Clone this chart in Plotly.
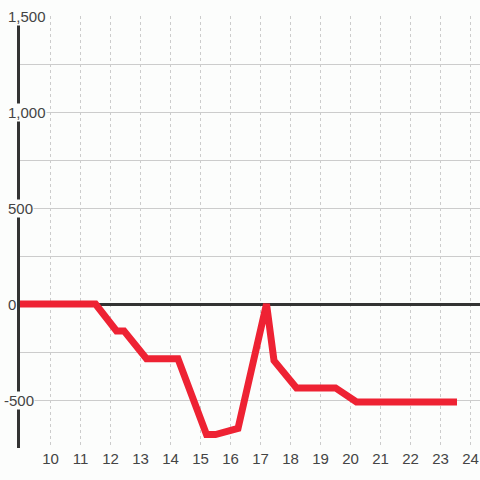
import plotly.graph_objects as go

x_vals = [8.88, 11.5, 12.2, 12.45, 13.2, 14.25, 15.2, 15.5, 16.25, 17.2, 17.45, 18.2, 19.5, 20.2, 23.55]
y_vals = [0, 0, -140, -140, -285, -285, -680, -680, -648, 0, -295, -437, -437, -510, -510]

y_label_vals = [1500, 1000, 500, 0, -500]
y_label_text = ["1,500", "1,000", "500", "0", "-500"]
x_tick_vals = list(range(10, 25))

BG = "#fcfdfc"
FONT = "Liberation Sans, Arial, sans-serif"

fig = go.Figure()
fig.add_trace(go.Scatter(x=x_vals, y=y_vals, mode="lines", cliponaxis=False,
                         line=dict(color="#ee2233", width=7), hoverinfo="skip"))

for v, t in zip(y_label_vals, y_label_text):
    fig.add_annotation(x=-13 / 460, xref="paper", y=v, yref="y", text=t, showarrow=False,
                       xanchor="left", yanchor="middle", bgcolor=BG, borderpad=0,
                       xshift=-4 if t.startswith("-") else 0,
                       font=dict(family=FONT, size=15, color="#444"))

fig.update_layout(
    width=480, height=480,
    margin=dict(l=20, r=0, t=16, b=32),
    paper_bgcolor=BG, plot_bgcolor=BG,
    showlegend=False,
    xaxis=dict(range=[8.983, 24.317], tickvals=x_tick_vals, showgrid=True,
               gridcolor="#cccccc", gridwidth=1, griddash="3px,3px",
               zeroline=False, showline=False, ticks="",
               tickfont=dict(family=FONT, size=15, color="#444")),
    yaxis=dict(range=[-750, 1500], dtick=250, showticklabels=False, showgrid=True,
               gridcolor="#cccccc", gridwidth=1, zeroline=True, zerolinecolor="#333333",
               zerolinewidth=3, showline=True, linecolor="#333333", linewidth=3, ticks=""),
)

fig.write_html("out.html", config={"displayModeBar": False},
               post_script="document.body.style.margin='0';")
